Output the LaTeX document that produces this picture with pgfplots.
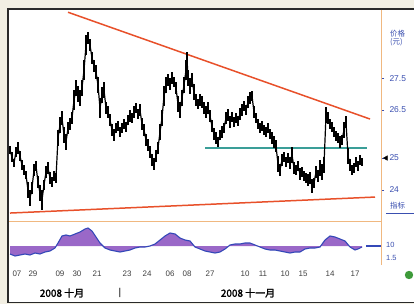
\documentclass[border=0pt]{standalone}
\usepackage{fontspec}
\setmainfont{Liberation Sans}
\newfontfamily\cjk[FakeBold=2]{Noto Sans CJK SC}
\newfontfamily\cjkr{Noto Sans CJK SC}
\usepackage{pgfplots}
\usepackage{pgfplotstable}
\pgfplotsset{compat=1.18}
\definecolor{bgcream}{HTML}{F2EFE3}
\definecolor{framec}{HTML}{2A2A2A}
\definecolor{trendred}{HTML}{E8502A}
\definecolor{orangel}{HTML}{F0B880}
\definecolor{tealc}{HTML}{3A9E98}
\definecolor{purp}{HTML}{9A68C8}
\definecolor{bluel}{HTML}{3448B8}
\definecolor{bluet}{HTML}{3A4FB0}
\definecolor{greendot}{HTML}{3E9A3A}

\pgfplotstableread{
x p e
10 25.25 0.13
12 25.03 0.16
14 24.85 0.13
16 25.19 0.16
18 25.31 0.19
20 25.06 0.16
22 24.78 0.16
24 24.63 0.16
26 24.47 0.13
28 24.00 0.25
30 23.75 0.25
32 24.06 0.19
34 24.63 0.19
36 24.75 0.16
38 24.25 0.19
40 23.91 0.25
42 23.69 0.31
44 24.16 0.16
46 24.56 0.19
48 24.69 0.19
50 24.38 0.19
52 24.25 0.16
54 24.44 0.16
56 24.38 0.16
58 25.63 0.25
60 26.03 0.25
62 26.25 0.22
64 25.72 0.25
66 25.50 0.25
68 25.94 0.19
70 26.06 0.19
72 26.25 0.19
74 26.81 0.31
76 27.19 0.25
78 27.00 0.25
80 26.88 0.25
82 27.19 0.25
84 27.75 0.31
86 28.53 0.31
88 28.75 0.19
90 28.53 0.19
92 28.13 0.19
94 27.88 0.19
96 27.69 0.22
98 27.28 0.25
100 26.56 0.31
102 26.97 0.25
104 27.13 0.25
106 26.56 0.19
108 26.44 0.19
110 26.19 0.19
112 25.88 0.19
114 25.72 0.19
116 25.94 0.16
118 26.00 0.16
120 25.81 0.16
122 25.94 0.16
124 26.06 0.16
126 25.97 0.16
128 26.19 0.16
130 26.31 0.19
132 26.25 0.16
134 26.44 0.19
136 26.56 0.16
138 26.38 0.16
140 26.50 0.19
142 26.06 0.19
144 25.88 0.19
146 25.56 0.19
148 25.41 0.19
150 25.19 0.19
152 24.94 0.19
154 24.81 0.19
156 25.06 0.19
158 25.31 0.19
160 25.81 0.25
162 26.25 0.25
164 26.94 0.31
166 27.28 0.25
168 27.44 0.19
170 27.31 0.19
172 27.50 0.19
174 27.38 0.16
176 27.19 0.19
178 26.69 0.25
180 26.50 0.25
182 26.88 0.25
184 27.28 0.25
186 27.75 0.31
187 28.13 0.19
188 27.50 0.25
190 27.25 0.25
192 27.44 0.22
194 27.06 0.25
196 26.81 0.19
198 26.69 0.16
200 26.81 0.19
202 26.75 0.19
204 26.56 0.19
206 26.44 0.19
208 26.56 0.19
210 26.31 0.19
212 26.00 0.19
214 25.75 0.19
216 25.63 0.19
218 25.50 0.16
220 25.72 0.16
222 25.81 0.19
224 25.94 0.16
226 26.25 0.19
228 26.35 0.19
230 26.13 0.19
232 26.28 0.16
234 26.13 0.16
236 26.25 0.16
238 26.16 0.16
240 26.38 0.19
242 26.50 0.19
244 26.63 0.16
246 26.50 0.16
248 26.75 0.19
250 26.88 0.19
252 26.94 0.16
254 26.44 0.19
256 26.25 0.16
258 26.06 0.16
260 25.94 0.16
262 26.00 0.16
264 25.88 0.16
266 25.81 0.16
268 25.94 0.16
270 25.75 0.16
272 25.63 0.19
274 25.50 0.19
276 25.38 0.19
278 24.81 0.25
280 24.63 0.19
282 24.94 0.19
284 25.03 0.16
286 24.88 0.16
288 25.00 0.16
290 24.85 0.19
292 25.10 0.25
294 24.69 0.19
296 24.63 0.16
298 24.75 0.16
300 24.50 0.19
302 24.56 0.16
304 24.44 0.16
306 24.38 0.16
308 24.31 0.19
310 24.38 0.19
312 24.13 0.22
314 24.22 0.16
316 24.56 0.19
318 24.44 0.19
320 24.69 0.25
322 24.56 0.25
324 24.78 0.25
326 26.35 0.25
328 26.25 0.19
330 26.06 0.16
332 25.97 0.16
334 25.81 0.16
336 25.69 0.16
338 25.63 0.16
340 25.50 0.19
342 25.56 0.16
344 25.88 0.25
346 26.13 0.19
348 25.06 0.25
350 24.78 0.19
352 24.63 0.16
354 24.69 0.16
356 24.88 0.16
358 24.75 0.16
360 24.94 0.16
362 24.88 0.13
}\price

\pgfplotstableread{
x v
10 -8
15 -10
20 -9
25 -8
30 -9
35 -7
40 -8
45 -6
50 -5
55 -2
58 3
62 10
66 11
70 10
75 12
80 14
85 17
88 18
92 15
96 9
100 3
105 -2
110 -4
115 -5
120 -6
125 -5
130 -4
135 -2
140 -1
145 -1
150 0
155 2
160 6
165 10
170 13
175 12
180 8
185 6
190 5
195 -1
200 -3
205 -5
210 -6
215 -7
220 -6
225 -3
230 1
235 2
240 2
245 3
250 3
255 1
260 -1
265 -3
270 -4
275 -4
280 -5
285 -6
290 -7
295 -6
300 -6
305 -3
310 -2
315 -2
320 -1
325 6
330 10
335 9
340 7
345 5
350 -1
355 -4
358 -3
362 -1
}\osc

\begin{document}
\begin{tikzpicture}[x=1bp,y=1bp]
\useasboundingbox (0,0) rectangle (414,304);
\fill[bgcream] (0,0) rectangle (414,304);
\fill[white] (8,1.5) rectangle (414,295);
\draw[framec, line width=1.4bp] (8,1.5) rectangle (418,295);

\begin{axis}[
  at={(9bp,82bp)}, anchor=south west, scale only axis,
  width=372bp, height=212bp,
  xmin=9, xmax=381, ymin=23.0, ymax=29.63,
  axis x line=none, axis y line*=right,
  y axis line style={draw=none},
  ytick={24,25,26.5,27.5}, yticklabels={24,25,26.5,27.5},
  tick style={draw=bluet, line width=0.6pt},
  tick align=outside, major tick length=3bp,
  yticklabel style={font=\fontsize{8.5}{9}\selectfont, text=bluet, xshift=2bp},
  /pgf/number format/assume math mode=true,
  clip=false]
\addplot[trendred, line width=1.5pt] coordinates {(68,29.56) (370,26.22)};
\addplot[trendred, line width=1.5pt] coordinates {(10,23.28) (375,23.78)};
\addplot[tealc, line width=1.3pt] coordinates {(205,25.31) (367,25.31)};
\addplot[black, line width=1.2pt,
  error bars/.cd, y dir=both, y explicit, error mark=none,
  error bar style={line width=2.1pt, black}]
  table[x=x, y=p, y error=e] {\price};
\addplot[only marks, mark=triangle*, mark size=2.6pt,
  mark options={rotate=90, fill=black, draw=black}] coordinates {(386,25)};
\end{axis}

\begin{axis}[
  at={(9bp,39bp)}, anchor=south west, scale only axis,
  width=372bp, height=43bp,
  xmin=9, xmax=381, ymin=-19, ymax=24,
  axis y line=none, axis x line*=bottom,
  x axis line style={draw=none},
  xtick={17,33,60,77,97,127,147,170,187,210,245,263,285,303,330,355},
  xticklabels={07,29,09,30,21,23,24,06,08,27,10,11,10,15,14,17},
  major tick length=0pt,
  xticklabel style={font=\fontsize{8}{8}\selectfont, text=black!75, yshift=-2.5bp},
  /pgf/number format/assume math mode=true,
  clip=false]
\addplot[fill=purp, draw=none] table[x=x, y=v] {\osc} \closedcycle;
\addplot[bluel, line width=1.1pt] table[x=x, y=v] {\osc};
\addplot[bluel, line width=1.1pt] coordinates {(366,0) (381,0)};
\end{axis}

% panel separators
\draw[orangel, line width=1bp] (9,82) -- (381,82);
\draw[orangel, line width=1bp] (381,294) -- (381,39);

% right-side labels
\node[anchor=west, text=bluet, font=\cjkr\fontsize{7.5}{8.5}\selectfont, align=left, inner sep=0] at (390,266) {价格\\(元)};
\node[anchor=west, text=bluet, font=\cjkr\fontsize{7.5}{8}\selectfont, inner sep=0] at (390,98) {指标};
\draw[bluet, line width=0.8bp] (386,91) -- (414,91);
\node[anchor=west, text=bluet, font=\fontsize{7.5}{8}\selectfont, inner sep=0] at (386,59) {10};
\node[anchor=west, text=bluet, font=\fontsize{7.5}{8}\selectfont, inner sep=0] at (386,46) {1.5};
\fill[greendot] (409,29) circle (4.2);

% month labels
\node[font=\cjk\fontsize{10}{11}\selectfont] at (62,11) {2008 十月};
\node[font=\fontsize{10}{11}\selectfont] at (120,11) {|};
\node[font=\cjk\fontsize{10}{11}\selectfont] at (248,11) {2008 十一月};
\end{tikzpicture}
\end{document}
